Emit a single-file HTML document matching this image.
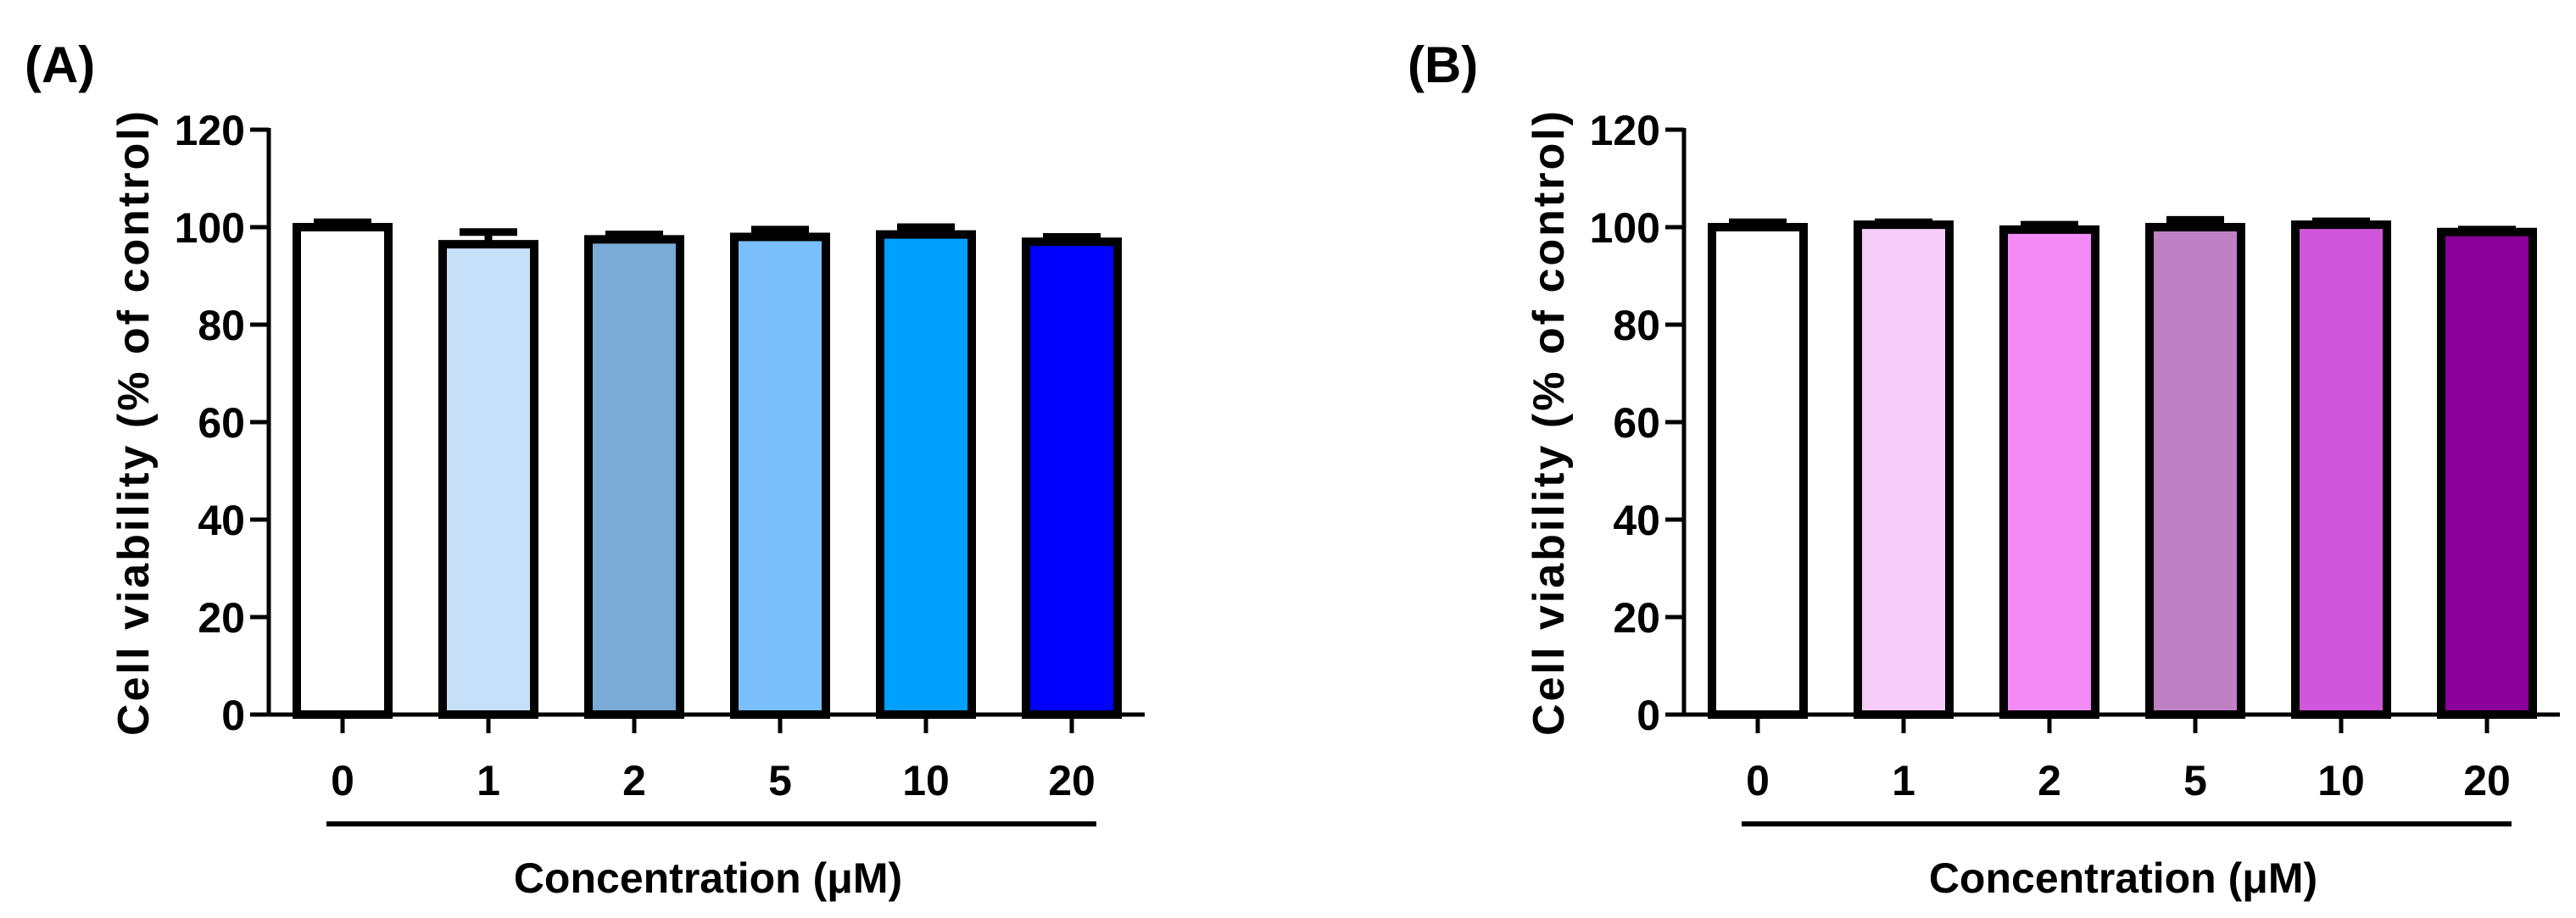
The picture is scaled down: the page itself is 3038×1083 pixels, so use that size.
<!DOCTYPE html>
<html><head><meta charset="utf-8"><style>
body{margin:0;background:#fff}
svg{display:block;font-family:"Liberation Sans",Arial,sans-serif;font-weight:bold}
</style></head><body>
<svg id="fig" width="3038" height="1083" viewBox="0 0 3038 1083" xmlns="http://www.w3.org/2000/svg"></svg>
<script>
const categories = ["0","1","2","5","10","20"];
const valuesA = [100, 96.5, 97.5, 98, 98.5, 97];
const errorsA = [1, 2.5, 1, 1.5, 1.5, 1];
const valuesB = [100, 100.5, 99.5, 100, 100.5, 99];
const errorsB = [1, 0.5, 1, 1.5, 0.7, 0.5];
const colorsA = ["#ffffff","#c5e0f8","#7aaad6","#7abffc","#00a0ff","#0000ff"];
const colorsB = ["#ffffff","#f5ccf8","#f38af5","#c080c4","#d057dc","#8a0099"];
const yTicks = [0,20,40,60,80,100,120];

const svg = document.getElementById('fig');
const NS = "http://www.w3.org/2000/svg";
function mk(tag, attrs, parent){
  const e = document.createElementNS(NS, tag);
  for (const k in attrs) e.setAttribute(k, attrs[k]);
  (parent||svg).appendChild(e);
  return e;
}
function panel(ox, labelX, letter, vals, errs, cols, pname){
  const g = mk('g', {});
  
  
  const y0 = 843, pxPer = 5.75, ax = 317 + ox;
  const yS = v => y0 - v * pxPer;
  const xS = i => 404 + ox + i * 172;
  const lab = mk('text', {x: labelX, y: 97, 'font-size': 60}, g);
  lab.textContent = '(' + letter + ')';
  
  
  vals.forEach((v, i) => {
    const cx = xS(i);
    const r = mk('rect', {x: cx - 54, y: yS(v), width: 108, height: y0 - yS(v), fill: cols[i], stroke: '#000', 'stroke-width': 10}, g);
    
    
    const top = yS(v + errs[i]);
    const el = mk('path', {d: `M${cx} ${yS(v)} V${top} M${cx-34} ${top} H${cx+34}`, stroke: '#000', 'stroke-width': 9, fill: 'none'}, g);
    
    
  });
  const ya = mk('line', {x1: ax, y1: yS(120) - 2, x2: ax, y2: y0 + 2, stroke: '#000', 'stroke-width': 5}, g);
  
  
  yTicks.forEach(t => {
    mk('line', {x1: ax - 22, y1: yS(t), x2: ax, y2: yS(t), stroke: '#000', 'stroke-width': 5}, g);
    const tx = mk('text', {x: ax - 28, y: yS(t) + 18, 'font-size': 50, 'text-anchor': 'end'}, g);
    tx.textContent = t;
    
    
  });
  const xa = mk('line', {x1: ax - 2, y1: y0, x2: 1350 + ox, y2: y0, stroke: '#000', 'stroke-width': 5}, g);
  
  
  categories.forEach((c, i) => {
    mk('line', {x1: xS(i), y1: y0, x2: xS(i), y2: y0 + 22, stroke: '#000', 'stroke-width': 5}, g);
    const t = mk('text', {x: xS(i), y: 938, 'font-size': 50, 'text-anchor': 'middle'}, g);
    t.textContent = c;
    
    
  });
  mk('line', {x1: 385 + ox, y1: 972, x2: 1293 + ox, y2: 972, stroke: '#000', 'stroke-width': 6}, g);
  const xt = mk('text', {x: 835 + ox, y: 1053, 'font-size': 50, 'text-anchor': 'middle'}, g);
  xt.textContent = 'Concentration (\u03bcM)';
  
  
  const yt = mk('text', {x: 0, y: 0, 'font-size': 52, 'text-anchor': 'middle', transform: `translate(${175 + ox},498) rotate(-90)`, 'letter-spacing': 3}, g);
  yt.textContent = 'Cell viability (% of control)';
  
  
}
panel(0, 29, 'A', valuesA, errorsA, colorsA, 'panel-a');
panel(1669, 1660, 'B', valuesB, errorsB, colorsB, 'panel-b');
</script>
</body></html>
